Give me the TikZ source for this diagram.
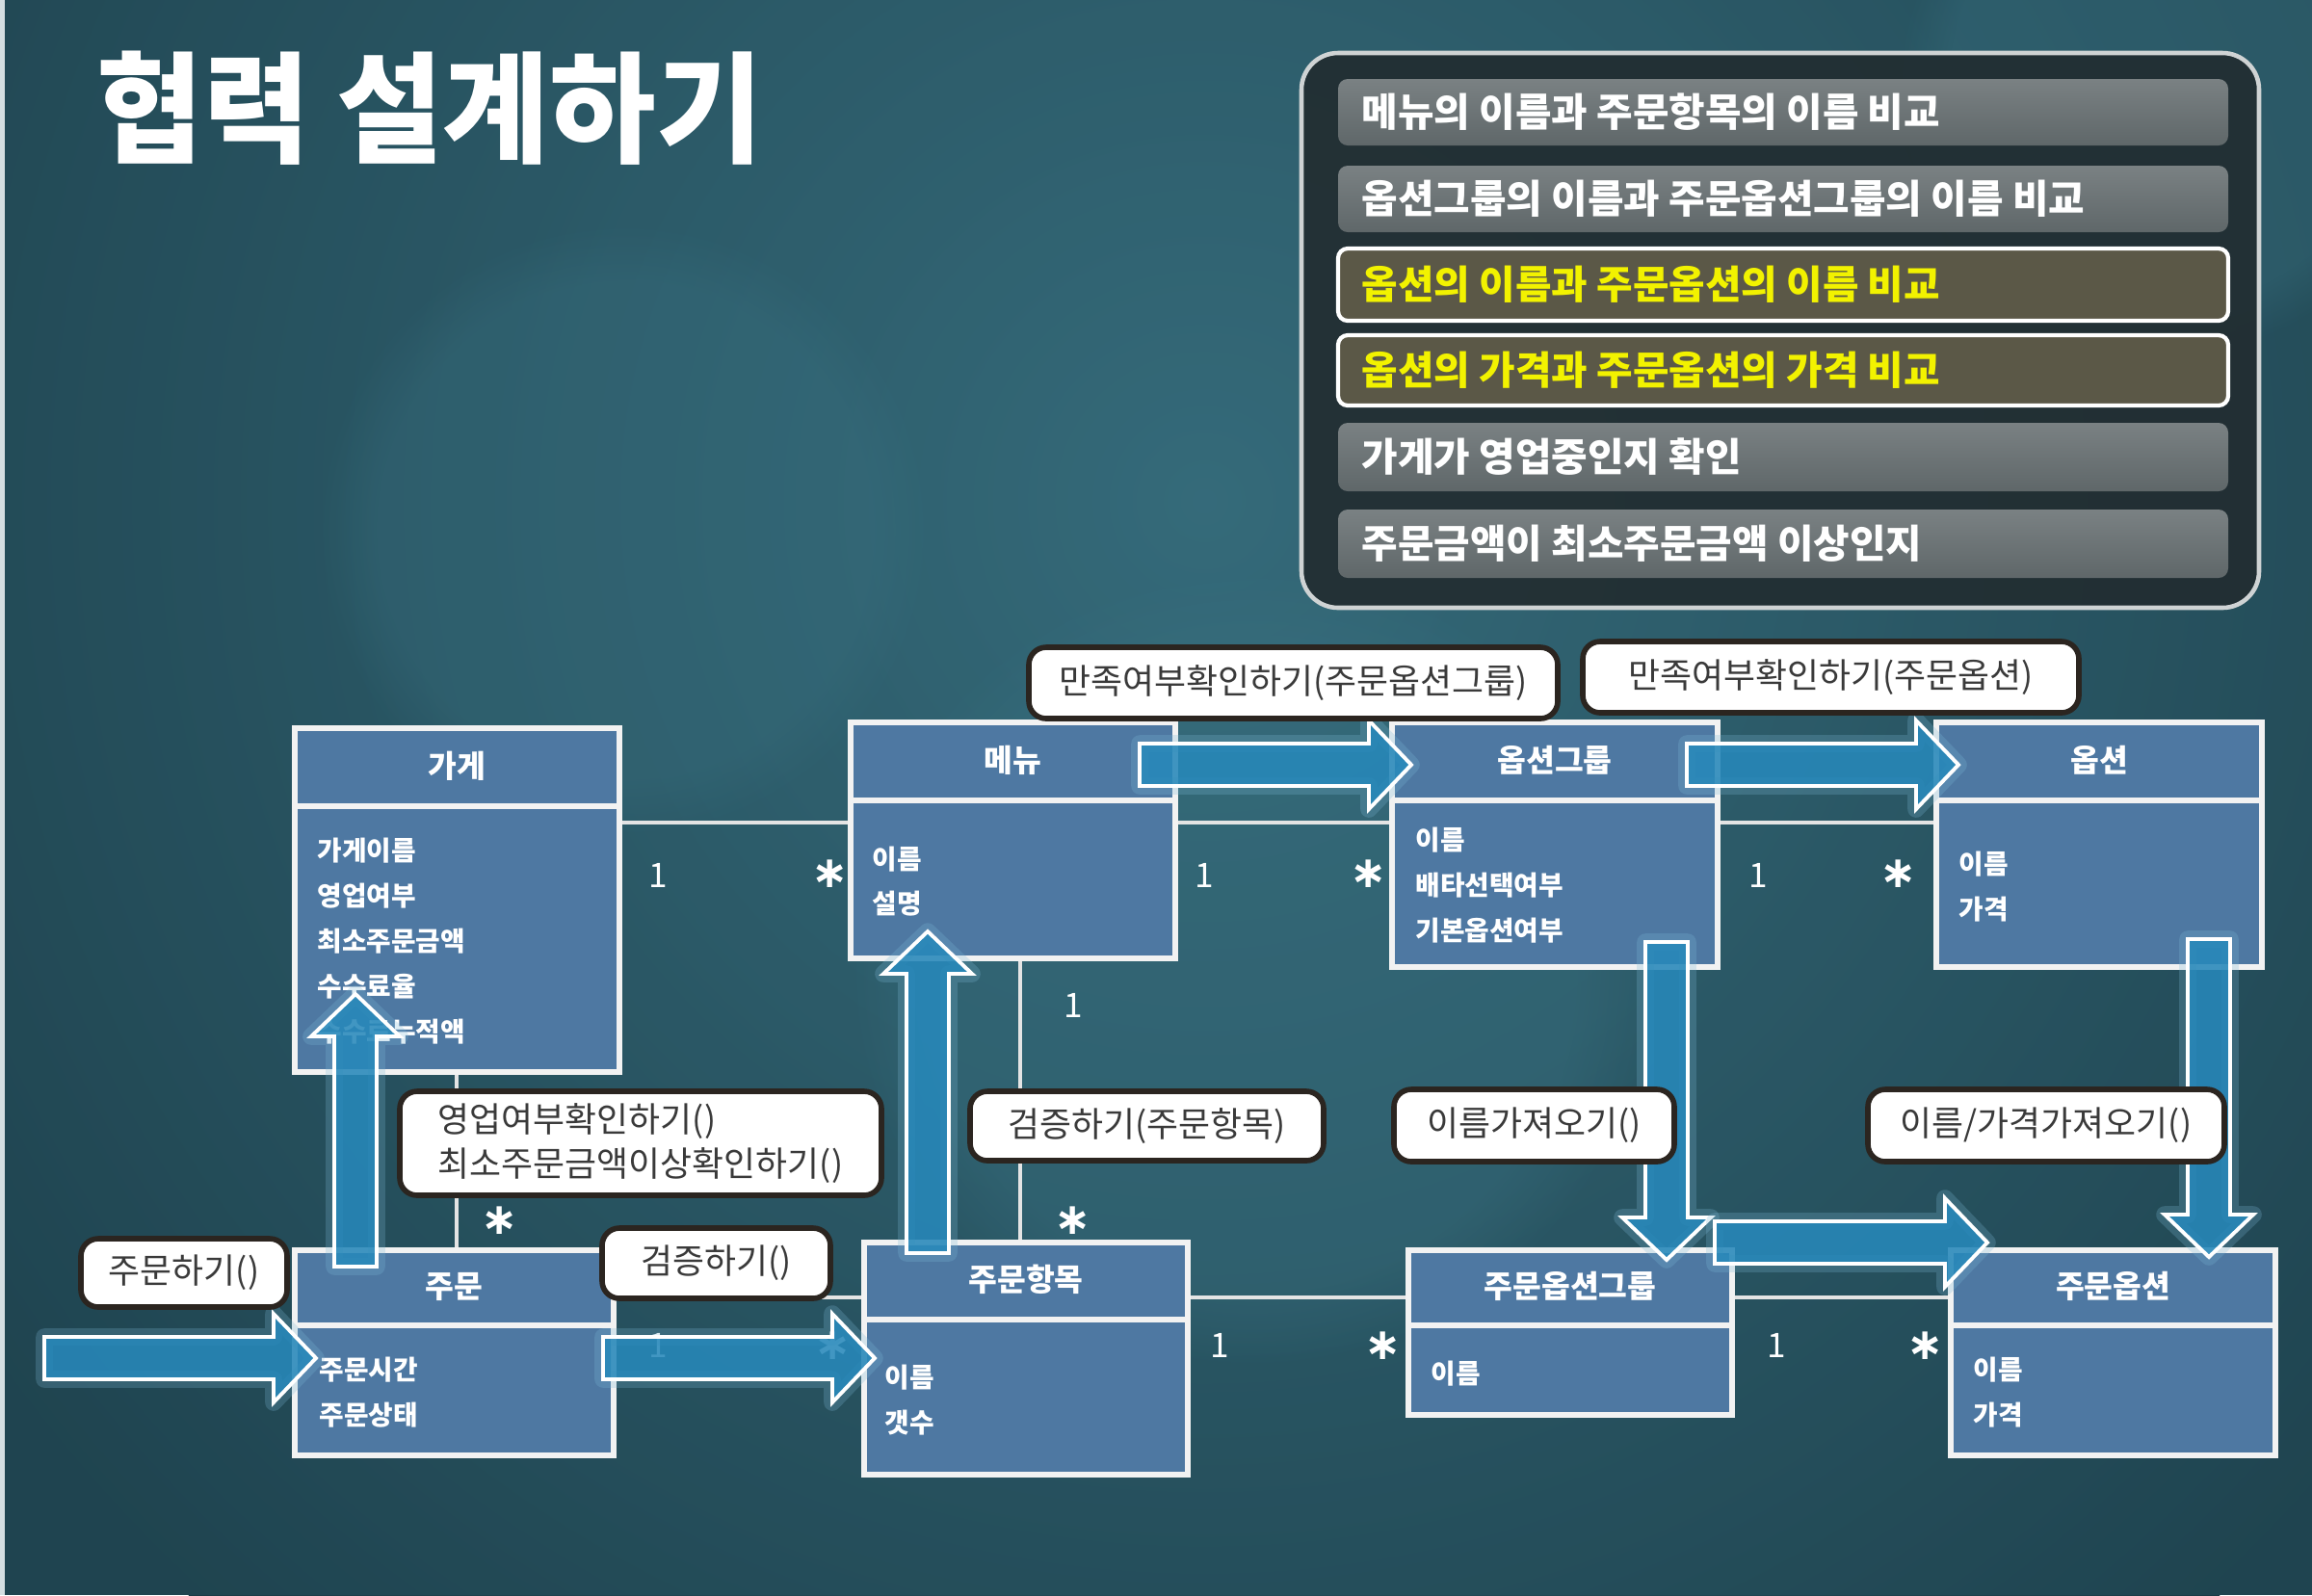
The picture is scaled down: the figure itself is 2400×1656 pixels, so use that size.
\documentclass[tikz,border=0pt]{standalone}
\usepackage{fontspec}
\newfontfamily\kr{Noto Sans CJK KR}
\newfontfamily\dvs{DejaVu Sans}
\usetikzlibrary{fit,calc,fadings}
\definecolor{bgdark}{HTML}{1B3B46}
\definecolor{bgmid}{HTML}{2A5A68}
\definecolor{bglight}{HTML}{3A7282}
\definecolor{panelfill}{HTML}{222D31}
\definecolor{panelline}{HTML}{CFD3D4}
\definecolor{bartop}{HTML}{7A8183}
\definecolor{barbot}{HTML}{5F6769}
\definecolor{hlfill}{HTML}{5B5847}
\definecolor{hltext}{HTML}{F2F200}
\definecolor{boxblue}{HTML}{4E78A2}
\definecolor{boxline}{HTML}{F2F2F2}
\definecolor{assocline}{HTML}{E4E4E4}
\definecolor{arrowblue}{HTML}{2788BA}
\definecolor{calloutline}{HTML}{2B2520}
\definecolor{callouttext}{HTML}{3A3A3A}
\tikzset{
  classbox/.style={draw=boxline, fill=boxblue, line width=1.5pt, inner sep=0pt},
  divider/.style={draw=boxline, line width=1.5pt},
  classtitle/.style={text=white, font=\kr\bfseries\fontsize{9.2pt}{10pt}\selectfont, inner sep=0pt},
  attr/.style={text=white, anchor=west, font=\kr\bfseries\fontsize{7.9pt}{9pt}\selectfont, inner sep=0pt},
  assoc/.style={draw=assocline, line width=1.2pt},
  mult/.style={text=white, font=\kr\fontsize{10pt}{11pt}\selectfont, inner sep=0pt},
  many/.style={text=white, font=\dvs\bfseries\fontsize{13pt}{14pt}\selectfont, inner sep=0pt},
  arrowglow/.style={draw=arrowblue!60!white, line width=5pt, draw opacity=0.25, line join=round},
  flowarrow/.style={draw=white, line width=1.1pt, fill=arrowblue, fill opacity=0.88, line join=miter},
  callout/.style={draw=calloutline, line width=1.6pt, fill=white, rounded corners=0.18cm, inner sep=0pt},
  callouttext/.style={text=callouttext, inner sep=0pt, font=\kr\fontsize{10.2pt}{13pt}\selectfont},
  greybar/.style={top color=bartop, bottom color=barbot, rounded corners=0.1cm, inner sep=0pt},
  hlbar/.style={fill=hlfill, draw=white, line width=1.2pt, rounded corners=0.1cm, inner sep=0pt},
  bartext/.style={anchor=west, inner sep=0pt, font=\kr\bfseries\fontsize{11.6pt}{12pt}\selectfont},
  softblob/.style={fill=bglight, path fading=circle with fuzzy edge 20 percent},
}
\newcommand\umlclass[7]{%
  \node[classbox, fit={(#2,#3) (#4,#5)}] (#1) {};
  \draw[divider] (#1.west |- 0,#6) -- (#1.east |- 0,#6);
  \node[classtitle] (#1-title) at ($(#1.north)!0.5!(#1.north |- 0,#6)$) {#7};
}
\newcommand\blockarrow[3]{%
  \draw[arrowglow, shift={#1}, rotate=#2]
    (0,-22) -- ({#3-44},-22) -- ({#3-44},-46) -- (#3,0) -- ({#3-44},46) -- ({#3-44},22) -- (0,22) -- cycle;
  \draw[flowarrow, shift={#1}, rotate=#2]
    (0,-22) -- ({#3-44},-22) -- ({#3-44},-46) -- (#3,0) -- ({#3-44},46) -- ({#3-44},22) -- (0,22) -- cycle;
}
\begin{document}
\begin{tikzpicture}[x=0.01cm, y=-0.01cm]
% background
\useasboundingbox (0,0) rectangle (2400,1656);
\begin{scope}
\clip (0,0) rectangle (2400,1656);
\fill[bgdark] (0,0) rectangle (2400,1656);
\shade[inner color=bglight, outer color=bgdark] (1250,520) circle (1550);
\fill[bgmid, opacity=0.3] (0,0) rectangle (2400,1656);
\fill[softblob, opacity=0.35] (1300,1000) circle (420);
\fill[softblob, opacity=0.3] (650,550) circle (320);
\fill[softblob, opacity=0.35] (2250,90) circle (280);
\fill[white!80!bgmid] (0,0) rectangle (5,1656);
\end{scope}

% title
\node[anchor=west, text=white, inner sep=0pt, font=\kr\bfseries\fontsize{35.6pt}{36pt}\selectfont] (title) at (100,112) {\scalebox{0.96}[1]{협력 설계하기}};

% panel
\node[draw=panelline, line width=1.3pt, fill=panelfill, fill opacity=0.92, rounded corners=0.38cm, inner sep=0pt, fit={(1351,55) (2345,631)}] (panel) {};
\node[greybar, fit={(1389,82) (2313,151)}] (r1) {};
\node[greybar, fit={(1389,172) (2313,241)}] (r2) {};
\node[hlbar, fit={(1389,258) (2313,333)}] (r3) {};
\node[hlbar, fit={(1389,348) (2313,421)}] (r4) {};
\node[greybar, fit={(1389,439) (2313,510)}] (r5) {};
\node[greybar, fit={(1389,529) (2313,600)}] (r6) {};
\node[bartext, text=white] (r1-t) at (1413,0 |- r1) {메뉴의 이름과 주문항목의 이름 비교};
\node[bartext, text=white] (r2-t) at (1413,0 |- r2) {옵션그룹의 이름과 주문옵션그룹의 이름 비교};
\node[bartext, text=hltext] (r3-t) at (1413,0 |- r3) {옵션의 이름과 주문옵션의 이름 비교};
\node[bartext, text=hltext] (r4-t) at (1413,0 |- r4) {옵션의 가격과 주문옵션의 가격 비교};
\node[bartext, text=white] (r5-t) at (1413,0 |- r5) {가게가 영업중인지 확인};
\node[bartext, text=white] (r6-t) at (1413,0 |- r6) {주문금액이 최소주문금액 이상인지};

% classes
\umlclass{gage}{306}{756}{643}{1113}{837}{가게}
\umlclass{menu}{883}{750}{1220}{995}{831}{메뉴}
\umlclass{optgroup}{1445}{750}{1783}{1004}{831}{옵션그룹}
\umlclass{option}{2010}{750}{2348}{1004}{831}{옵션}
\umlclass{order}{306}{1298}{637}{1511}{1376}{주문}
\umlclass{orderitem}{897}{1290}{1233}{1531}{1370}{주문항목}
\umlclass{ordoptgroup}{1462}{1298}{1798}{1469}{1376}{주문옵션그룹}
\umlclass{ordoption}{2025}{1298}{2362}{1511}{1376}{주문옵션}

% associations
\draw[assoc] (gage.east |- 0,854) -- (menu.west |- 0,854);
\draw[assoc] (menu.east |- 0,854) -- (optgroup.west |- 0,854);
\draw[assoc] (optgroup.east |- 0,854) -- (option.west |- 0,854);
\draw[assoc] (gage.south -| 474,0) -- (order.north -| 474,0);
\draw[assoc] (menu.south -| 1059,0) -- (orderitem.north -| 1059,0);
\draw[assoc] (order.east |- 0,1347) -- (orderitem.west |- 0,1347);
\draw[assoc] (orderitem.east |- 0,1347) -- (ordoptgroup.west |- 0,1347);
\draw[assoc] (ordoptgroup.east |- 0,1347) -- (ordoption.west |- 0,1347);

% attributes
\foreach \t [count=\i] in {가게이름,영업여부,최소주문금액,수수료율,수수료누적액}
  \node[attr] (gage-a\i) at (329,{883+47*(\i-1)}) {\t};
\foreach \t [count=\i] in {이름,설명}
  \node[attr] (menu-a\i) at (905,{892+46*(\i-1)}) {\t};
\foreach \t [count=\i] in {이름,배타선택여부,기본옵션여부}
  \node[attr] (optgroup-a\i) at (1469,{872+47*(\i-1)}) {\t};
\foreach \t [count=\i] in {이름,가격}
  \node[attr] (option-a\i) at (2033,{897+47*(\i-1)}) {\t};
\foreach \t [count=\i] in {주문시간,주문상태}
  \node[attr] (order-a\i) at (331,{1422+47*(\i-1)}) {\t};
\foreach \t [count=\i] in {이름,갯수}
  \node[attr] (orderitem-a\i) at (918,{1430+47*(\i-1)}) {\t};
\node[attr] (ordoptgroup-a1) at (1485,1426) {이름};
\foreach \t [count=\i] in {이름,가격}
  \node[attr] (ordoption-a\i) at (2048,{1422+47*(\i-1)}) {\t};

% multiplicities
\node[mult] (m1) at (683,909) {1};
\node[many] (m2) at (862,907) {∗};
\node[mult] (m3) at (1250,909) {1};
\node[many] (m4) at (1421,907) {∗};
\node[mult] (m5) at (1825,909) {1};
\node[many] (m6) at (1971,907) {∗};
\node[many] (m7) at (519,1267) {∗};
\node[mult] (m8) at (1114,1044) {1};
\node[many] (m9) at (1114,1267) {∗};
\node[mult] (m10) at (683,1397) {1};
\node[many] (m11) at (865,1397) {∗};
\node[mult] (m12) at (1266,1397) {1};
\node[many] (m13) at (1436,1397) {∗};
\node[mult] (m14) at (1844,1397) {1};
\node[many] (m15) at (1999,1397) {∗};

% message arrows
\blockarrow{(46,1410)}{0}{282}
\blockarrow{(626,1410)}{0}{282}
\blockarrow{(369,1315)}{90}{283}
\blockarrow{(963,1301)}{90}{334}
\blockarrow{(1183,794)}{0}{282}
\blockarrow{(1751,794)}{0}{282}
\blockarrow{(1730,978)}{-90}{330}
\blockarrow{(1780,1290)}{0}{283}
\blockarrow{(2293,975)}{-90}{330}

% callouts
\node[callout, fit={(1068,672) (1617,746)}] (c1) {};
\node[callout, fit={(1643,666) (2158,740)}] (c2) {};
\node[callout, fit={(415,1133) (915,1241)}] (c3) {};
\node[callout, fit={(1007,1133) (1374,1205)}] (c4) {};
\node[callout, fit={(1447,1131) (1738,1206)}] (c5) {};
\node[callout, fit={(1939,1131) (2309,1206)}] (c6) {};
\node[callout, fit={(84,1286) (298,1357)}] (c7) {};
\node[callout, fit={(625,1275) (862,1348)}] (c8) {};
\node[callouttext] (c1-t) at (c1) {만족여부확인하기(주문옵션그룹)};
\node[callouttext] (c2-t) at (c2) {만족여부확인하기(주문옵션)};
\node[callouttext, align=left] (c3-t) at (c3) {영업여부확인하기()\\최소주문금액이상확인하기()};
\node[callouttext] (c4-t) at (c4) {검증하기(주문항목)};
\node[callouttext] (c5-t) at (c5) {이름가져오기()};
\node[callouttext] (c6-t) at (c6) {이름/가격가져오기()};
\node[callouttext] (c7-t) at (c7) {주문하기()};
\node[callouttext] (c8-t) at (c8) {검증하기()};
\end{tikzpicture}
\end{document}
